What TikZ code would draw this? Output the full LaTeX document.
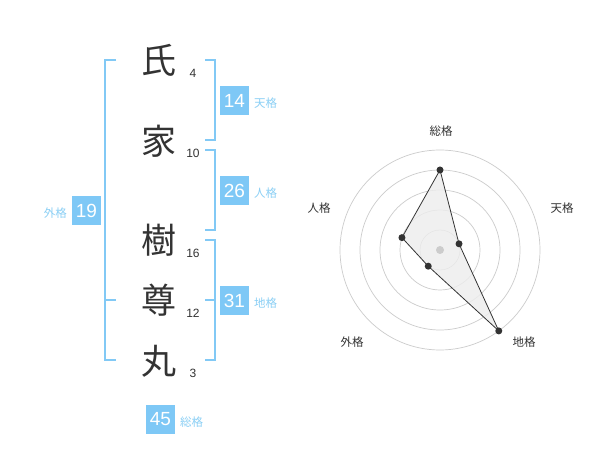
\documentclass[tikz,border=0pt]{standalone}
\usepackage{fontspec}
\setmainfont{Liberation Sans}
\newfontfamily\jp{Noto Sans CJK JP}
\definecolor{brk}{HTML}{82C9F5}
\definecolor{boxc}{HTML}{7EC8F6}
\definecolor{lbl}{HTML}{8ACFF5}
\definecolor{ink}{HTML}{333333}
\definecolor{ring}{HTML}{CCCCCC}
\begin{document}
\begin{tikzpicture}[x=1pt,y=-1pt,
  kanji/.style={inner sep=0pt,text=ink,font=\jp\fontsize{35}{35}\selectfont},
  strokes/.style={inner sep=0pt,text=ink,font=\fontsize{12}{12}\selectfont},
  valbox/.style={fill=boxc,minimum width=29pt,minimum height=29pt,inner sep=0pt,text=white,font=\fontsize{19}{19}\selectfont},
  kaku/.style={inner sep=0pt,text=lbl,font=\jp\fontsize{11.5}{12}\selectfont},
  brack/.style={draw=brk,line width=2pt},
  axlbl/.style={inner sep=0pt,text=ink,font=\jp\fontsize{11.5}{12}\selectfont},
  dot/.style={circle,fill=ink,inner sep=0pt,minimum size=7pt}]
\useasboundingbox (0,0) rectangle (600,470);
\fill[white] (0,0) rectangle (600,470);
% characters
\node[kanji] (c1) at (159,60) {氏};
\node[kanji] (c2) at (159,141) {家};
\node[kanji] (c3) at (159,240) {樹};
\node[kanji] (c4) at (159,300) {尊};
\node[kanji] (c5) at (159,361) {丸};
\node[strokes] (s1) at (193,73) {4};
\node[strokes] (s2) at (193,153) {10};
\node[strokes] (s3) at (193,253) {16};
\node[strokes] (s4) at (193,313) {12};
\node[strokes] (s5) at (193,373) {3};
% brackets
\draw[brack] (116,60) -- (105,60) -- (105,360) -- (116,360);
\draw[brack] (105,300) -- (116,300);
\draw[brack] (205,60) -- (215,60) -- (215,140) -- (205,140);
\draw[brack] (205,150) -- (215,150) -- (215,230) -- (205,230);
\draw[brack] (205,240) -- (215,240) -- (215,360) -- (205,360);
\draw[brack] (205,300) -- (215,300);
% value boxes
\node[valbox] (ten) at (234.5,100.5) {14};
\node[kaku,anchor=west] (tenl) at (254,103) {天格};
\node[valbox] (jin) at (234.5,190.5) {26};
\node[kaku,anchor=west] (jinl) at (254,193) {人格};
\node[valbox] (chi) at (234.5,300.5) {31};
\node[kaku,anchor=west] (chil) at (254,303) {地格};
\node[valbox] (gai) at (86.5,210.5) {19};
\node[kaku,anchor=east] (gail) at (67,213) {外格};
\node[valbox] (sou) at (160.5,419) {45};
\node[kaku,anchor=west] (soul) at (180,422) {総格};
% radar
\begin{scope}[shift={(440,250)}]
  \foreach \r in {20,40,60,80,100} \draw[ring,line width=0.7pt] (0,0) circle[radius=\r];
  \coordinate (p1) at (-90:80);
  \coordinate (p2) at (-18:20);
  \coordinate (p3) at (54:100);
  \coordinate (p4) at (126:20);
  \coordinate (p5) at (-162:40);
  \fill[black!7,opacity=0.8] (p1) -- (p2) -- (p3) -- (p4) -- (p5) -- cycle;
  \draw[ink,line width=0.8pt] (p1) -- (p2) -- (p3) -- (p4) -- (p5) -- cycle;
  \node[circle,fill=ring,inner sep=0pt,minimum size=8pt] (ctr) at (0,0) {};
  \foreach \p in {p1,p2,p3,p4,p5} \node[dot] at (\p) {};
\end{scope}
\node[axlbl] (a1) at (441,131) {総格};
\node[axlbl] (a2) at (562,208) {天格};
\node[axlbl] (a3) at (524,342) {地格};
\node[axlbl] (a4) at (352,342) {外格};
\node[axlbl] (a5) at (319,208) {人格};
\end{tikzpicture}
\end{document}
